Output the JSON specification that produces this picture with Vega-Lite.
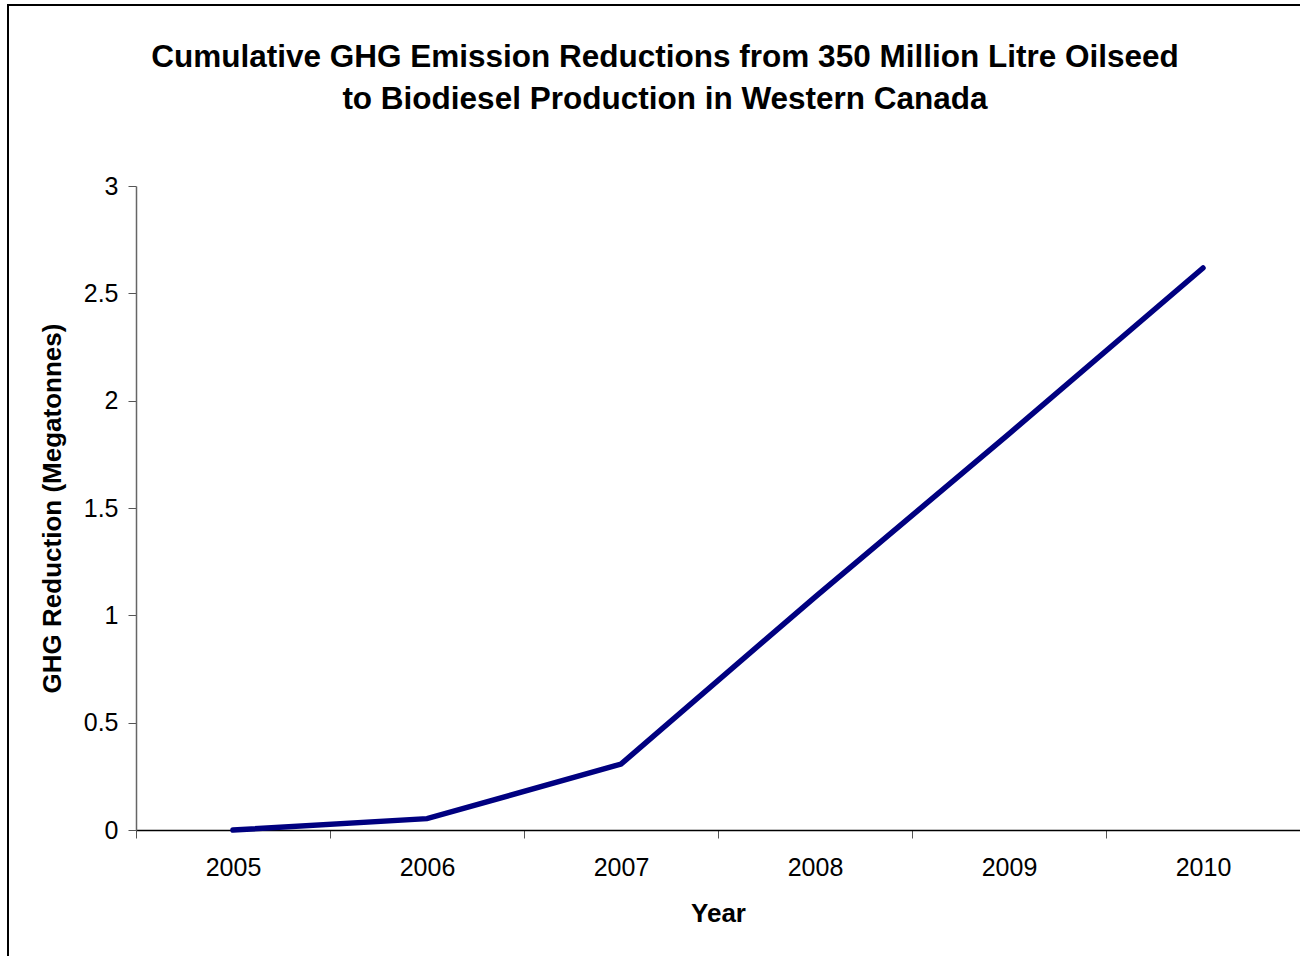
{
  "$schema": "https://vega.github.io/schema/vega-lite/v6.json",
  "width": 1296,
  "height": 955,
  "autosize": {"type": "none"},
  "padding": {"left": 8, "top": 5, "right": 0, "bottom": 0},
  "background": "white",
  "config": {
    "view": {"stroke": "black", "strokeWidth": 2},
    "font": "Liberation Sans"
  },
  "title": {
    "text": ["Cumulative GHG Emission Reductions from 350 Million Litre Oilseed", "to Biodiesel Production in Western Canada"],
    "fontSize": 31.5,
    "fontWeight": "bold",
    "font": "Liberation Sans",
    "color": "black",
    "anchor": "middle",
    "frame": "group",
    "offset": -110,
    "lineHeight": 42,
    "dx": 9
  },
  "data": {
    "values": [
      {"year": "2005", "ghg": 0.0},
      {"year": "2006", "ghg": 0.053},
      {"year": "2007", "ghg": 0.307},
      {"year": "2008", "ghg": 1.085},
      {"year": "2009", "ghg": 1.845},
      {"year": "2010", "ghg": 2.618}
    ]
  },
  "mark": {"type": "line", "color": "#000080", "strokeWidth": 5.5, "strokeCap": "round"},
  "encoding": {
    "x": {
      "field": "year",
      "type": "ordinal",
      "bandPosition": 0.5,
      "scale": {"type": "band", "range": [128, 1292], "paddingInner": 0, "paddingOuter": 0},
      "axis": {
        "title": "Year",
        "offset": -130,
        "tickBand": "extent",
        "labelAngle": 0,
        "tickSize": 8,
        "tickColor": "#555555",
        "domainColor": "#000000",
        "domainWidth": 1.5,
        "labelFontSize": 25,
        "labelColor": "black",
        "labelPadding": 17,
        "titleFontSize": 26,
        "titleFontWeight": "bold",
        "titleColor": "black",
        "titlePadding": 20,
        "grid": false
      }
    },
    "y": {
      "field": "ghg",
      "type": "quantitative",
      "scale": {"domain": [0, 3], "range": [825, 181], "nice": false, "zero": true},
      "axis": {
        "title": "GHG Reduction (Megatonnes)",
        "offset": -128,
        "values": [0, 0.5, 1, 1.5, 2, 2.5, 3],
        "format": "~g",
        "tickSize": 8,
        "tickColor": "#555555",
        "domainColor": "#666666",
        "domainWidth": 1.5,
        "labelFontSize": 25,
        "labelColor": "black",
        "labelPadding": 10,
        "titleFontSize": 26,
        "titleFontWeight": "bold",
        "titleColor": "black",
        "titlePadding": 18,
        "grid": false
      }
    }
  }
}
